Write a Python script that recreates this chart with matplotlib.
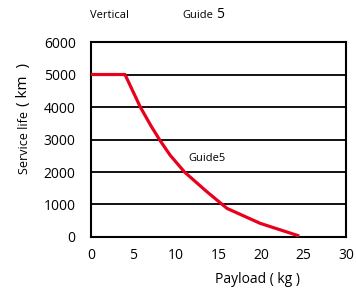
import matplotlib.pyplot as plt

# Kurve: Nutzlast (kg) -> Lebensdauer (km)
payload = [0, 4.0, 5.8, 7.1, 8.1, 9.3, 11.0, 13.6, 16.0, 19.9, 24.5]
service_life = [5000, 5000, 4000, 3400, 2980, 2520, 2000, 1400, 880, 420, 30]
x_ticks = [0, 5, 10, 15, 20, 25, 30]
y_ticks = [0, 1000, 2000, 3000, 4000, 5000, 6000]

plt.rcParams['font.family'] = ['Open Sans', 'DejaVu Sans']

fig = plt.figure(figsize=(3.56, 2.91), dpi=100)
ax = fig.add_axes([0.2556, 0.1856, 0.7164, 0.67])

for y in y_ticks[1:-1]:
    ax.axhline(y, color='black', lw=1.3, zorder=1)

ax.plot(payload, service_life, color='#e8001c', lw=2.3, zorder=3,
        solid_capstyle='butt')

ax.set_xlim(0, 30)
ax.set_ylim(0, 6000)
ax.set_xticks(x_ticks)
ax.set_yticks(y_ticks)
ax.set_xticks([5, 10], minor=True)
ax.tick_params(which='major', length=0, labelsize=10, pad=8)
ax.tick_params(axis='y', pad=11)
ax.tick_params(which='minor', direction='in', length=4, width=1.2)
for s in ax.spines.values():
    s.set_linewidth(1.5)

ax.text(13.6, 2430, 'Guide5', fontsize=8, ha='center', va='center')

fig.text(0.253, 0.948, 'Vertical', fontsize=8, ha='left', va='center')
fig.text(0.511, 0.948, 'Guide', fontsize=8, ha='left', va='center')
fig.text(0.606, 0.950, '5', fontsize=10, ha='left', va='center')
fig.text(0.722, 0.041, 'Payload ( kg )', fontsize=10, ha='center', va='center')
fig.text(0.068, 0.512, 'Service life', fontsize=9, rotation=90,
         ha='center', va='center')
fig.text(0.066, 0.708, '( km  )', fontsize=11, rotation=90,
         ha='center', va='center')

fig.savefig('out.png', dpi=100)
